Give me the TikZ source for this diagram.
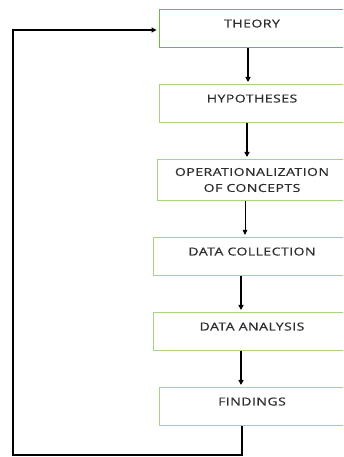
\documentclass[tikz,border=0pt]{standalone}
\usepackage{fontspec}
\setmainfont{Open Sans}[FakeStretch=1.28,LetterSpace=4,FakeBold=0.6]
\usepackage{tikz}
\usetikzlibrary{arrows.meta,positioning}
\definecolor{boxgreen}{RGB}{110,185,65}
\definecolor{palegreen}{RGB}{165,212,130}
\definecolor{txtgray}{RGB}{45,45,45}

\begin{document}
\begin{tikzpicture}[
  stage/.style={draw=palegreen, line width=1pt, minimum width=186pt, minimum height=38pt, align=center, text=txtgray, font=\fontsize{11}{16}\selectfont, text height=8pt, text depth=10pt},
  arr/.style={-{Triangle[length=5pt,width=5pt]}, line width=1.6pt, shorten >=2pt},
  thinarr/.style={-{Triangle[length=5pt,width=4.5pt]}, line width=0.8pt, shorten >=2pt},
  node distance=36pt
]
\clip (0,0) rectangle (343pt,457pt);

\node[stage, draw=boxgreen] (theory) at (252pt,428.5pt) {THEORY};
\node[stage, below=of theory] (hyp) {HYPOTHESES};
\node[stage, minimum width=190pt, minimum height=41pt, text height=, text depth=, below=of hyp] (oper) {OPERATIONALIZATION\\OF CONCEPTS};
\node[stage, minimum width=198pt, below=of oper] (collect) {DATA COLLECTION};
\node[stage, minimum width=198pt, below=of collect] (analysis) {DATA ANALYSIS};
\node[stage, below=of analysis] (find) {FINDINGS};

\coordinate (fbcorner) at (13pt,2pt);

\draw[arr] ([xshift=-4pt]theory.south) -- ([xshift=-4pt]hyp.north);
\draw[arr] ([xshift=-5pt]hyp.south) -- ([xshift=-5pt]oper.north);
\draw[thinarr] ([xshift=-7pt]oper.south) -- ([xshift=-7pt]collect.north);
\draw[arr] ([xshift=-11pt]collect.south) -- ([xshift=-11pt]analysis.north);
\draw[arr] ([xshift=-11pt]analysis.south) -- ([xshift=-11pt]find.north);
\draw[arr] ([xshift=-10pt]find.south) |- (fbcorner) |- ([yshift=-1.5pt]theory.west);

\end{tikzpicture}
\end{document}
